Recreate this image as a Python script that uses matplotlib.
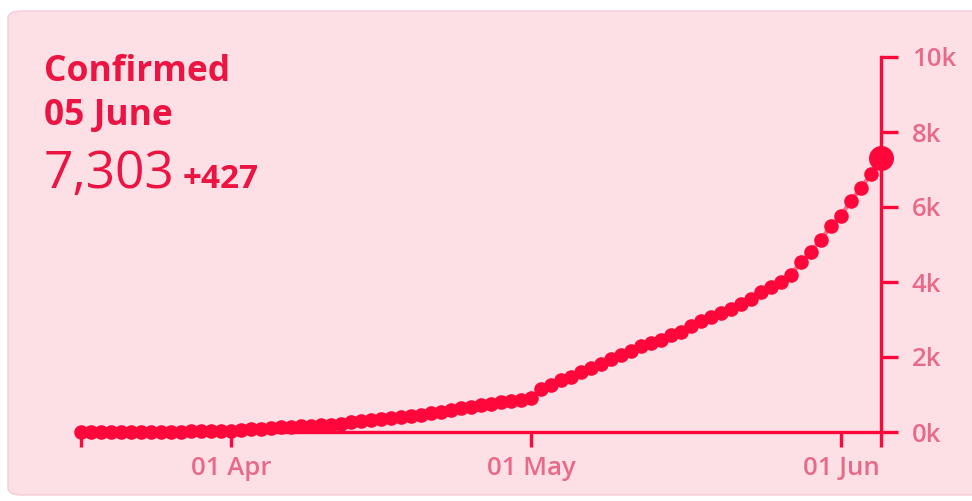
import matplotlib
matplotlib.use('Agg')
import numpy as np
import pandas as pd
from matplotlib import pyplot as plt
from matplotlib.patches import FancyBboxPatch

plt.rcParams['font.family'] = ['Open Sans', 'DejaVu Sans']

# daily cumulative confirmed cases, 17 Mar - 05 Jun
start_date = '2020-03-17'
end_date = '2020-06-05'
confirmed_mar = [1, 1, 2, 2, 4, 7, 7, 9, 9, 10, 10, 15, 18, 22, 26]
confirmed_apr = [40, 55, 70, 85, 110, 125, 140, 150, 165, 180, 200, 225, 255, 285, 310,
                 340, 370, 400, 430, 465, 500, 540, 590, 630, 670, 710, 750, 790, 830, 860]
confirmed_may = [910, 1150, 1259, 1380, 1480, 1590, 1710, 1820, 1950, 2063, 2173, 2290,
                 2377, 2461, 2576, 2677, 2825, 2961, 3070, 3180, 3280, 3420, 3550, 3730,
                 3860, 4009, 4192, 4536, 4813, 5130, 5501]
confirmed_jun = [5772, 6168, 6508, 6876, 7303]

x_tick_dates = ['2020-03-17', '2020-04-01', '2020-05-01', '2020-06-01', '2020-06-05']
x_tick_labels = ['', '01 Apr', '01 May', '01 Jun', '']
y_ticks = [0, 2000, 4000, 6000, 8000, 10000]
y_tick_labels = ['0k', '2k', '4k', '6k', '8k', '10k']

title = 'Confirmed'
date_label = '05 June'
total_label = '7,303'
delta_label = '+427'

RED = '#ff073a'
TEXT_RED = '#ec1442'
TICK_TEXT = '#e96a88'
BG = '#fde0e6'

dates = pd.date_range(start_date, end_date)
values = np.array(confirmed_mar + confirmed_apr + confirmed_may + confirmed_jun)

fig = plt.figure(figsize=(9.72, 5.01), dpi=100, facecolor='white')
box = FancyBboxPatch((8 / 972, 6 / 501), 980 / 972, 484 / 501,
                     boxstyle='round,pad=0,rounding_size=0.014',
                     transform=fig.transFigure, facecolor=BG,
                     edgecolor='#f7cbd5', linewidth=1, zorder=-1)
fig.patches.append(box)

ax = fig.add_axes([81 / 972, 1 - 432 / 501, 800 / 972, 375 / 501])
ax.set_zorder(2)
ax.set_facecolor('none')
ax.plot(dates, values, '-', color=RED, lw=3, alpha=0.55, clip_on=False)
ax.plot(dates[:-1], values[:-1], 'o', color=RED, ms=10.5, mec='none', clip_on=False)
ax.plot(dates[-1:], values[-1:], 'o', color=RED, ms=18, mec='none', clip_on=False)

ax.set_xlim(dates[0], dates[-1])
ax.set_ylim(0, 10000)

for side in ['top', 'left']:
    ax.spines[side].set_visible(False)
for side in ['right', 'bottom']:
    ax.spines[side].set_color(RED)
    ax.spines[side].set_linewidth(2.4)

ax.yaxis.tick_right()
ax.set_yticks(y_ticks)
ax.set_yticklabels(y_tick_labels)
ax.set_xticks(pd.to_datetime(x_tick_dates))
ax.set_xticklabels(x_tick_labels)
ax.tick_params(axis='y', length=12, width=2.4, color=RED, pad=10,
               labelsize=18.5, labelcolor=TICK_TEXT)
ax.tick_params(axis='x', length=11, width=2.4, color=RED, pad=6,
               labelsize=18.5, labelcolor=TICK_TEXT)
for lbl in ax.get_xticklabels() + ax.get_yticklabels():
    lbl.set_fontweight('semibold')

fig.text(44 / 972, 1 - 81 / 501, title, fontsize=25.5, fontweight='bold',
         color=TEXT_RED, va='baseline')
fig.text(44 / 972, 1 - 125 / 501, date_label, fontsize=25.5, fontweight='bold',
         color=TEXT_RED, va='baseline')
fig.text(44 / 972, 1 - 188 / 501, total_label, fontsize=37,
         color=TEXT_RED, va='baseline')
fig.text(183 / 972, 1 - 188 / 501, delta_label, fontsize=24, fontweight='bold',
         color=TEXT_RED, va='baseline')

fig.savefig('out.png', dpi=100, facecolor='white')
